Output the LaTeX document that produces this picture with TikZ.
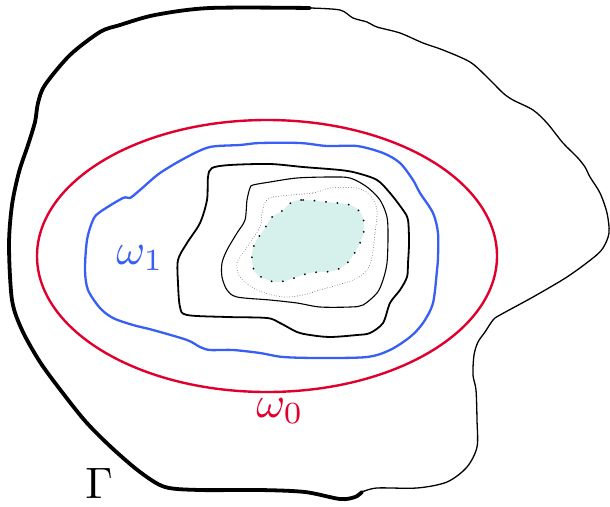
\documentclass[tikz,border=0pt]{standalone}
\usepackage{amsmath}
\usepackage{amssymb}
\usetikzlibrary{calc}
\definecolor{omegared}{RGB}{225,0,45}
\definecolor{omegablue}{RGB}{55,95,245}
\definecolor{coretint}{RGB}{214,241,236}
\newcommand{\biglbl}[1]{\scalebox{4.4}{#1}}
\tikzset{
    bndthick/.style={line width=3.8pt, line cap=round, line join=round},
    bndthin/.style={line width=1.3pt, line cap=round, line join=round},
    lvlzero/.style={omegared, line width=2.4pt},
    lvlone/.style={omegablue, line width=2.3pt},
    lvltwo/.style={black, line width=1.8pt},
    lvlthree/.style={black, line width=1.1pt},
    lvlfour/.style={black!70, line width=0.8pt, dash pattern=on 0pt off 2.6pt, line cap=round},
    corebnd/.style={black, line width=2pt, dash pattern=on 0pt off 11.5pt, line cap=round},
    lbl/.style={inner sep=0pt}
}
\begin{document}
\begin{tikzpicture}[x=1pt, y=-1pt]
    \useasboundingbox (0,0) rectangle (610,506);
    % outer boundary Gamma
    \draw[bndthick] plot[smooth, tension=0.5] coordinates {
        (310,8) (210,8) (155,15) (120,25) (100,32) (70,55) (45,85) (38,103)
        (35,122) (28,145) (19,172) (12,205) (9,245) (12,300) (22,330) (40,362)
        (62,392) (86,422) (112,448) (140,472) (165,487) (200,490) (260,490)
        (305,492) (340,499) (355,497) (362,492)};
    \draw[bndthin] plot[smooth, tension=0.5] coordinates {
        (362,492) (377,488) (417,488) (447,482) (467,467) (477,447) (477,420)
        (476,390) (473,375) (474,355) (478,342) (485,332) (493,320) (500,315)
        (533,297) (567,277) (593,258) (603,248) (609,233) (607,213) (600,193)
        (590,177) (585,167) (577,157) (563,143) (547,123) (533,110) (513,100)
        (503,93) (487,77) (470,62) (443,50) (423,43) (400,33) (377,27) (367,22)
        (353,18) (340,10) (310,8)};
    % level sets
    \draw[lvlzero] (267,256) ellipse [x radius=230, y radius=136];
    \draw[lvlone] plot[smooth cycle, tension=0.5] coordinates {
        (210,147) (240,145) (260,143) (300,143) (327,146) (357,146) (383,153)
        (400,163) (413,180) (420,193) (433,213) (438,233) (438,257) (437,270)
        (433,303) (423,323) (410,337) (390,350) (367,357) (320,358) (283,357)
        (260,353) (233,350) (210,350) (200,347) (187,340) (153,330) (133,325)
        (113,318) (100,308) (88,290) (85,270) (87,240) (93,220) (100,212)
        (123,198) (130,198) (140,190) (160,173) (187,157)};
    \draw[lvltwo] plot[smooth cycle, tension=0.5] coordinates {
        (212,168) (230,165) (270,164) (303,167) (340,170) (357,173) (377,180)
        (390,193) (403,210) (408,220) (409,243) (408,263) (407,277) (400,290)
        (390,303) (383,323) (370,333) (357,335) (330,337) (310,335) (297,332)
        (280,323) (267,318) (227,317) (187,315) (180,307) (178,283) (178,260)
        (187,243) (200,223) (207,200) (208,177)};
    \draw[lvlthree] plot[smooth cycle, tension=0.5] coordinates {
        (250,188) (253,185) (270,182) (297,178) (330,177) (350,178) (367,187)
        (380,200) (387,217) (388,237) (387,263) (383,280) (377,293) (363,305)
        (350,307) (320,307) (297,303) (270,300) (237,297) (227,290) (222,277)
        (222,263) (227,250) (237,233) (245,220) (247,200)};
    \draw[lvlfour] plot[smooth cycle, tension=0.5] coordinates {
        (270,198) (313,193) (330,188) (357,188) (370,195) (377,210) (375,233)
        (372,257) (367,270) (353,280) (320,290) (303,295) (283,297) (257,290)
        (240,277) (237,263) (245,250) (260,227) (262,213)};
    % core
    \fill[coretint] plot[smooth cycle, tension=0.6] coordinates {
        (292,202) (303,200) (327,202) (350,205) (360,212) (364,223) (363,235)
        (358,247) (352,257) (345,265) (333,271) (310,273) (288,280) (276,282)
        (265,279) (255,272) (252,260) (253,248) (258,238) (265,228) (272,217)
        (282,211)};
    \draw[corebnd] plot[smooth cycle, tension=0.6] coordinates {
        (292,202) (303,200) (327,202) (350,205) (360,212) (364,223) (363,235)
        (358,247) (352,257) (345,265) (333,271) (310,273) (288,280) (276,282)
        (265,279) (255,272) (252,260) (253,248) (258,238) (265,228) (272,217)
        (282,211)};
    % labels
    \node[lbl, text=omegablue] (omegaone) at (140,258) {\biglbl{$\omega_1$}};
    \node[lbl, text=omegared] (omegazero) at (280,411) {\biglbl{$\omega_0$}};
    \node[lbl] (gammabnd) at (99,483) {\biglbl{$\Gamma$}};
\end{tikzpicture}
\end{document}
